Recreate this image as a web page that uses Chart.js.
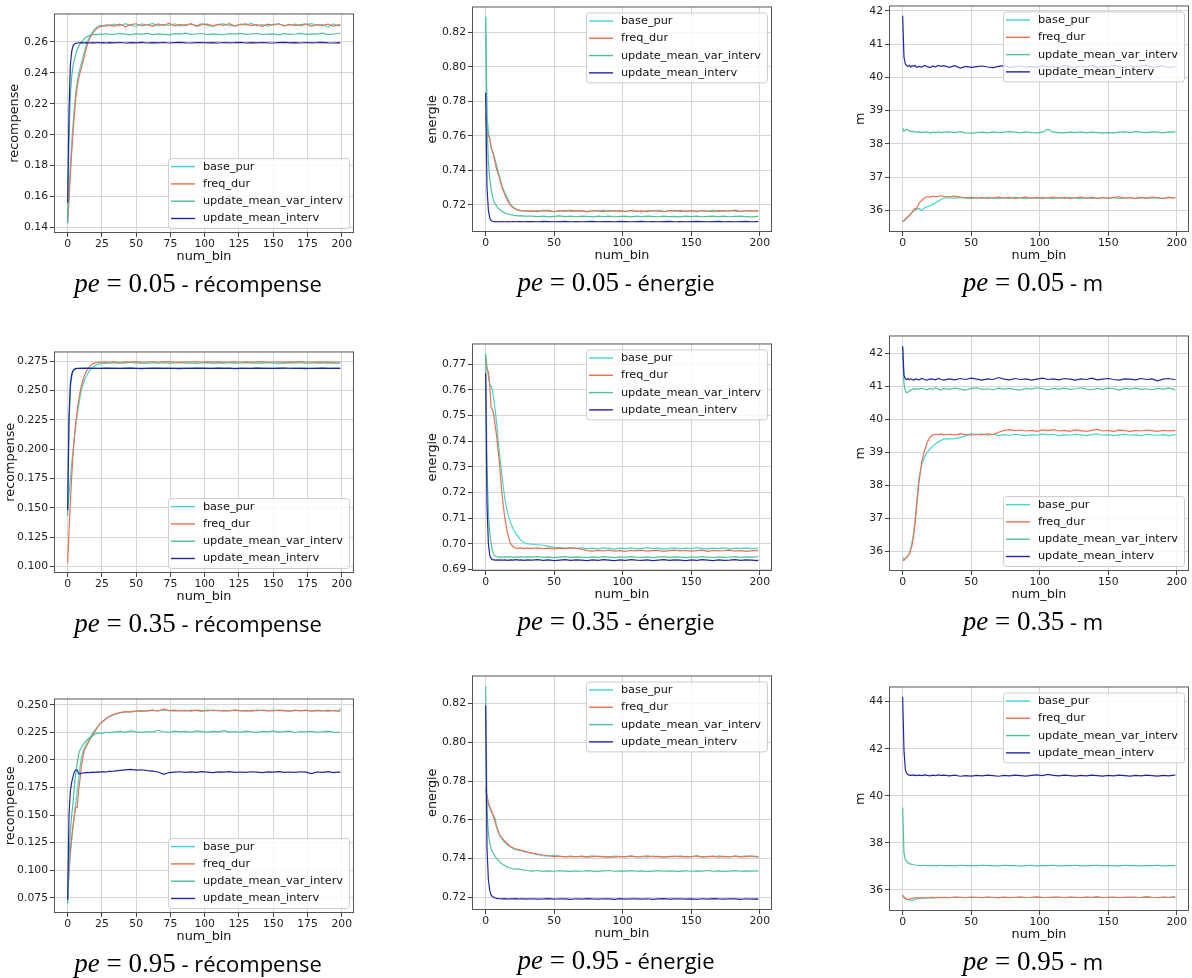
<!DOCTYPE html>
<html>
<head>
<meta charset="utf-8">
<script src="https://cdn.jsdelivr.net/npm/chart.js@4.4.1/dist/chart.umd.min.js"></script>
<style>
  body { margin: 0; background: #fff; width: 1192px; height: 978px; position: relative; overflow: hidden; }
  canvas { position: absolute; }
  .cap { position: absolute; white-space: nowrap; font-family: "Open Sans"; font-size: 22px; line-height: 30px; color: #000; transform: translateX(-50%); }
  .cap .mth { font-family: "Liberation Serif"; font-size: 27px; }
</style>
</head>
<body>
<script>
// num_bin positions sampled for every series
const bins = [0,1,2,3,4,5,6,7,8,9,10, 12,14,16,18,20,22,24,26,28,30,
  34,38,42,46,50,54,58,62,66,70,74,78,82,86,90,94,98,102,106,110,114,118,122,126,
  130,134,138,142,146,150,154,158,162,166,170,174,178,182,186,190,194,198, 199];

const seriesNames = ['base_pur', 'freq_dur', 'update_mean_var_interv', 'update_mean_interv'];

// ---- pe = 0.05 ----
const rec05Base = [0.143,0.163,0.180,0.195,0.207,0.218,0.228,0.234,0.239,0.243,0.246,
  0.253,0.259,0.263,0.266,0.2685,0.2698,0.2705,0.2702,0.2710,0.2706,
  0.2714,0.2702,0.2717,0.2706,0.2700,0.2715, 0.2707,0.2718,0.2703,0.2712,0.2705,0.2716,
  0.2701,0.2711,0.2714,0.2704,0.2717,0.2706, 0.2699,0.2712,0.2715,0.2705,0.2702,0.2714,
  0.2707,0.2718,0.2703,0.2711,0.2701,0.2712, 0.2716,0.2704,0.2708,0.2714,0.2702,0.2711,
  0.2717,0.2705,0.2712,0.2694,0.2715,0.2701, 0.2708];
const rec05Freq = [0.143,0.158,0.174,0.189,0.202,0.214,0.224,0.231,0.236,0.240,0.243,
  0.250,0.257,0.262,0.265,0.2675,0.2690,0.2698,0.2704,0.2700,0.2707,
  0.2701,0.2714,0.2696,0.2710,0.2716,0.2702, 0.2711,0.2699,0.2715,0.2706,0.2718,0.2703,
  0.2712,0.2704,0.2716,0.2700,0.2710,0.2714, 0.2702,0.2712,0.2705,0.2717,0.2701,0.2711,
  0.2715,0.2704,0.2710,0.2700,0.2714,0.2707, 0.2716,0.2702,0.2712,0.2704,0.2710,0.2715,
  0.2699,0.2711,0.2704,0.2714,0.2701,0.2710, 0.2707];
const rec05Umv = [0.143,0.198,0.226,0.238,0.245,0.249,0.252,0.255,0.257,0.2585,0.2598,
  0.2618,0.2633,0.2641,0.2645,0.2648,0.2646,0.2651,0.2647,0.2652,0.2649,
  0.2647,0.2653,0.2649,0.2645,0.2652,0.2648, 0.2654,0.2646,0.2651,0.2648,0.2644,0.2652,
  0.2649,0.2655,0.2647,0.2650,0.2653,0.2646, 0.2651,0.2648,0.2645,0.2652,0.2649,0.2654,
  0.2647,0.2650,0.2653,0.2646,0.2649,0.2651, 0.2645,0.2652,0.2648,0.2650,0.2654,0.2647,
  0.2651,0.2649,0.2655,0.2646,0.2650,0.2653, 0.2656];
const rec05Umi = [0.156,0.216,0.245,0.2540,0.2575,0.2585,0.2590,0.2592,0.2593,0.2592,0.2594,
  0.2593,0.2594,0.2592,0.2594,0.2593,0.2595,0.2593,0.2594,0.2592,0.2594,
  0.2593,0.2595,0.2592,0.2594,0.2593,0.2596, 0.2592,0.2594,0.2593,0.2595,0.2592,0.2594,
  0.2596,0.2593,0.2592,0.2594,0.2595,0.2593, 0.2594,0.2592,0.2595,0.2593,0.2594,0.2596,
  0.2592,0.2594,0.2593,0.2595,0.2593,0.2592, 0.2594,0.2596,0.2593,0.2594,0.2592,0.2595,
  0.2593,0.2594,0.2596,0.2593,0.2592,0.2594, 0.2593];

const en05Base = [0.829,0.772,0.763,0.758,0.754,0.751,0.749,0.746,0.743,0.740,0.737,
  0.731,0.727,0.724,0.7205,0.7188,0.7178,0.7172,0.7168,0.7165,0.7167,
  0.7163,0.7168,0.7164,0.7170,0.7162,0.7166, 0.7169,0.7161,0.7165,0.7168,0.7163,0.7167,
  0.7164,0.7170,0.7162,0.7166,0.7169,0.7163, 0.7167,0.7165,0.7161,0.7168,0.7164,0.7171,
  0.7163,0.7166,0.7169,0.7162,0.7165,0.7168, 0.7164,0.7167,0.7163,0.7170,0.7162,0.7166,
  0.7168,0.7164,0.7161,0.7167,0.7163,0.7169, 0.7160];
const en05Freq = [0.772,0.765,0.760,0.759,0.753,0.751,0.748,0.744,0.741,0.738,0.736,
  0.730,0.726,0.7225,0.7200,0.7185,0.7174,0.7169,0.7166,0.7168,0.7164,
  0.7166,0.7162,0.7169,0.7165,0.7161,0.7167, 0.7163,0.7170,0.7164,0.7166,0.7160,0.7168,
  0.7165,0.7162,0.7168,0.7164,0.7166,0.7161, 0.7169,0.7163,0.7166,0.7162,0.7168,0.7165,
  0.7161,0.7167,0.7164,0.7169,0.7163,0.7166, 0.7162,0.7168,0.7165,0.7161,0.7167,0.7164,
  0.7166,0.7170,0.7163,0.7168,0.7165,0.7167, 0.7166];
const en05Umv = [0.829,0.768,0.745,0.735,0.729,0.725,0.722,0.7205,0.7193,0.7183,0.7175,
  0.7163,0.7154,0.7148,0.7144,0.7141,0.7139,0.7137,0.7138,0.7136,0.7135,
  0.7136,0.7133,0.7135,0.7131,0.7134,0.7137, 0.7133,0.7135,0.7132,0.7136,0.7134,0.7131,
  0.7135,0.7133,0.7136,0.7132,0.7134,0.7135, 0.7131,0.7136,0.7133,0.7135,0.7134,0.7132,
  0.7136,0.7133,0.7134,0.7131,0.7135,0.7133, 0.7136,0.7132,0.7134,0.7135,0.7133,0.7136,
  0.7132,0.7134,0.7135,0.7133,0.7131,0.7134, 0.7134];
const en05Umi = [0.785,0.730,0.717,0.7125,0.7110,0.7106,0.7104,0.7104,0.7103,0.7104,0.7103,
  0.7104,0.7103,0.7104,0.7103,0.7104,0.7103,0.7104,0.7104,0.7103,0.7104,
  0.7104,0.7103,0.7105,0.7104,0.7103,0.7104, 0.7105,0.7103,0.7104,0.7103,0.7104,0.7105,
  0.7103,0.7104,0.7104,0.7103,0.7105,0.7104, 0.7103,0.7104,0.7105,0.7103,0.7104,0.7103,
  0.7104,0.7105,0.7103,0.7104,0.7103,0.7104, 0.7105,0.7104,0.7103,0.7104,0.7105,0.7103,
  0.7104,0.7103,0.7104,0.7105,0.7103,0.7104, 0.7104];

const m05Base = [35.66,35.70,35.74,35.78,35.82,35.86,35.90,35.94,35.97,36.01,36.05,
  36.06,36.00,36.08,36.11,36.14,36.18,36.22,36.28,36.33,36.37,
  36.38,36.36,36.39,36.37,36.35,36.38, 36.36,36.39,36.37,36.35,36.38,36.36,
  36.40,36.37,36.35,36.38,36.36,36.39, 36.37,36.35,36.38,36.36,36.39,36.37,
  36.35,36.38,36.36,36.37,36.39,36.35, 36.38,36.36,36.37,36.39,36.35,36.38,
  36.36,36.38,36.37,36.35,36.39,36.37, 36.38];
const m05Freq = [35.66,35.68,35.72,35.77,35.80,35.85,35.90,35.95,36.02,36.06,36.04,
  36.22,36.30,36.38,36.41,36.40,36.43,36.41,36.42,36.44,36.42,
  36.41,36.43,36.40,36.38,36.39,36.37, 36.39,36.36,36.38,36.40,36.37,36.39,
  36.36,36.38,36.40,36.37,36.39,36.36, 36.38,36.40,36.37,36.39,36.36,36.38,
  36.40,36.37,36.39,36.36,36.38,36.37, 36.39,36.41,36.37,36.38,36.36,36.39,
  36.37,36.40,36.38,36.36,36.39,36.38, 36.38];
const m05Umv = [38.48,38.38,38.42,38.44,38.41,38.39,38.37,38.38,38.36,38.37,38.35,
  38.36,38.34,38.36,38.35,38.33,38.35,38.34,38.36,38.34,38.35,
  38.36,38.34,38.37,38.33,38.32,38.34, 38.35,38.33,38.36,38.34,38.35,38.37,
  38.35,38.33,38.36,38.34,38.33,38.35, 38.44,38.35,38.34,38.33,38.35,38.34,
  38.36,38.33,38.35,38.34,38.32,38.34, 38.33,38.35,38.36,38.34,38.37,38.35,
  38.34,38.36,38.35,38.33,38.36,38.35, 38.39];
const m05Umi = [41.85,40.60,40.40,40.35,40.33,40.36,40.31,40.35,40.33,40.36,40.30,
  40.33,40.31,40.36,40.32,40.29,40.34,40.31,40.36,40.33,40.35,
  40.30,40.35,40.28,40.33,40.30,40.32, 40.34,40.31,40.29,40.33,40.35,40.30,
  40.32,40.34,40.30,40.33,40.29,40.35, 40.31,40.33,40.30,40.36,40.32,40.29,
  40.34,40.31,40.35,40.30,40.33,40.31, 40.36,40.32,40.30,40.34,40.31,40.33,
  40.35,40.30,40.32,40.34,40.29,40.33, 40.31];

// ---- pe = 0.35 ----
const rec35Base = [0.146,0.160,0.175,0.188,0.200,0.211,0.221,0.229,0.237,0.244,0.250,
  0.258,0.263,0.267,0.2698,0.2712,0.2722,0.2728,0.2731,0.2733,0.2730,
  0.2736,0.2731,0.2734,0.2738,0.2732,0.2735, 0.2730,0.2736,0.2733,0.2737,0.2731,0.2734,
  0.2736,0.2732,0.2735,0.2729,0.2734,0.2737, 0.2731,0.2735,0.2733,0.2736,0.2730,0.2734,
  0.2737,0.2732,0.2735,0.2731,0.2736,0.2733, 0.2729,0.2735,0.2732,0.2737,0.2734,0.2731,
  0.2736,0.2733,0.2735,0.2730,0.2734,0.2732, 0.2733];
const rec35Freq = [0.103,0.130,0.155,0.177,0.196,0.211,0.223,0.233,0.241,0.248,0.254,
  0.262,0.267,0.2705,0.2724,0.2735,0.2740,0.2742,0.2741,0.2743,0.2740,
  0.2743,0.2740,0.2744,0.2741,0.2745,0.2739, 0.2742,0.2744,0.2740,0.2743,0.2746,0.2741,
  0.2739,0.2743,0.2742,0.2745,0.2740,0.2744, 0.2741,0.2743,0.2739,0.2742,0.2745,0.2740,
  0.2744,0.2741,0.2743,0.2746,0.2740,0.2742, 0.2744,0.2739,0.2743,0.2741,0.2745,0.2742,
  0.2740,0.2744,0.2741,0.2743,0.2739,0.2742, 0.2742];
const rec35Umv = [0.143,0.222,0.252,0.262,0.266,0.2678,0.2685,0.2688,0.2690,0.2689,0.2691,
  0.2690,0.2692,0.2689,0.2691,0.2690,0.2692,0.2689,0.2691,0.2690,0.2692,
  0.2691,0.2689,0.2692,0.2690,0.2688,0.2691, 0.2690,0.2692,0.2689,0.2691,0.2690,0.2688,
  0.2692,0.2690,0.2691,0.2689,0.2692,0.2690, 0.2688,0.2691,0.2690,0.2692,0.2689,0.2691,
  0.2690,0.2688,0.2692,0.2690,0.2691,0.2689, 0.2692,0.2690,0.2688,0.2691,0.2690,0.2692,
  0.2689,0.2691,0.2690,0.2688,0.2691,0.2690, 0.2690];
const rec35Umi = [0.148,0.228,0.256,0.264,0.2672,0.2682,0.2686,0.2688,0.2687,0.2689,0.2688,
  0.2689,0.2688,0.2690,0.2688,0.2689,0.2687,0.2689,0.2688,0.2690,0.2688,
  0.2689,0.2687,0.2688,0.2690,0.2688,0.2686, 0.2689,0.2688,0.2690,0.2687,0.2689,0.2688,
  0.2686,0.2689,0.2688,0.2690,0.2687,0.2689, 0.2688,0.2690,0.2687,0.2689,0.2686,0.2688,
  0.2689,0.2687,0.2690,0.2688,0.2689,0.2687, 0.2688,0.2690,0.2689,0.2687,0.2688,0.2686,
  0.2689,0.2688,0.2690,0.2687,0.2689,0.2688, 0.2688];

const en35Base = [0.7740,0.7690,0.7655,0.7620,0.7615,0.7600,0.7560,0.7520,0.7470,0.7410,0.7360,
  0.7260,0.7175,0.7120,0.7085,0.7058,0.7040,0.7025,0.7012,0.7005,0.7000,
  0.6998,0.6996,0.6994,0.6990,0.6986,0.6985, 0.6983,0.6985,0.6982,0.6984,0.6981,0.6983,
  0.6980,0.6984,0.6982,0.6979,0.6983,0.6981, 0.6984,0.6980,0.6982,0.6985,0.6981,0.6983,
  0.6979,0.6982,0.6984,0.6980,0.6983,0.6981, 0.6985,0.6982,0.6980,0.6983,0.6981,0.6984,
  0.6980,0.6983,0.6982,0.6984,0.6981,0.6983, 0.6984];
const en35Freq = [0.7725,0.7680,0.7670,0.7620,0.7530,0.7525,0.7500,0.7460,0.7420,0.7370,0.7320,
  0.7190,0.7100,0.7040,0.7003,0.6988,0.6983,0.6982,0.6984,0.6981,0.6983,
  0.6982,0.6984,0.6981,0.6983,0.6980,0.6983, 0.6981,0.6984,0.6982,0.6979,0.6973,0.6971,
  0.6974,0.6972,0.6975,0.6971,0.6973,0.6970, 0.6974,0.6972,0.6975,0.6971,0.6973,0.6974,
  0.6970,0.6973,0.6975,0.6972,0.6974,0.6971, 0.6973,0.6975,0.6970,0.6974,0.6972,0.6973,
  0.6975,0.6971,0.6973,0.6970,0.6972,0.6974, 0.6972];
const en35Umv = [0.7740,0.7300,0.7120,0.7040,0.7000,0.6972,0.6958,0.6952,0.6950,0.6948,0.6949,
  0.6947,0.6949,0.6948,0.6950,0.6947,0.6949,0.6948,0.6950,0.6947,0.6949,
  0.6948,0.6950,0.6947,0.6949,0.6946,0.6948, 0.6950,0.6947,0.6949,0.6948,0.6946,0.6949,
  0.6947,0.6950,0.6948,0.6946,0.6949,0.6947, 0.6950,0.6948,0.6947,0.6949,0.6946,0.6948,
  0.6950,0.6947,0.6949,0.6948,0.6946,0.6949, 0.6947,0.6950,0.6948,0.6946,0.6949,0.6947,
  0.6948,0.6950,0.6947,0.6949,0.6948,0.6950, 0.6951];
const en35Umi = [0.7663,0.7150,0.7000,0.6955,0.6942,0.6938,0.6937,0.6936,0.6937,0.6936,0.6937,
  0.6936,0.6937,0.6935,0.6937,0.6936,0.6938,0.6936,0.6937,0.6935,0.6937,
  0.6936,0.6938,0.6935,0.6937,0.6934,0.6936, 0.6938,0.6935,0.6937,0.6936,0.6934,0.6937,
  0.6935,0.6938,0.6936,0.6934,0.6937,0.6935, 0.6938,0.6936,0.6935,0.6937,0.6934,0.6936,
  0.6938,0.6935,0.6937,0.6936,0.6934,0.6937, 0.6935,0.6938,0.6936,0.6934,0.6937,0.6935,
  0.6936,0.6938,0.6935,0.6937,0.6936,0.6934, 0.6936];

const m35Base = [35.80,35.74,35.78,35.80,35.85,35.95,36.10,36.30,36.55,36.90,37.40,
  38.25,38.62,38.85,39.00,39.10,39.18,39.25,39.31,39.35,39.40,
  39.40,39.41,39.44,39.50,39.56,39.52, 39.55,39.51,39.54,39.50,39.53,39.51,
  39.54,39.52,39.50,39.53,39.51,39.55, 39.52,39.54,39.50,39.53,39.51,39.54,
  39.52,39.50,39.53,39.55,39.51,39.53, 39.50,39.52,39.54,39.51,39.53,39.50,
  39.54,39.52,39.51,39.53,39.50,39.53, 39.52];
const m35Freq = [35.72,35.72,35.78,35.82,35.86,35.92,36.05,36.20,36.45,36.80,37.25,
  38.10,38.72,39.05,39.30,39.45,39.52,39.54,39.53,39.55,39.52,
  39.54,39.52,39.55,39.53,39.51,39.54, 39.52,39.55,39.53,39.60,39.66,39.68,
  39.65,39.67,39.64,39.66,39.63,39.67, 39.65,39.68,39.64,39.66,39.63,39.67,
  39.65,39.63,39.66,39.69,39.64,39.66, 39.62,39.67,39.65,39.63,39.66,39.64,
  39.67,39.65,39.63,39.66,39.64,39.65, 39.65];
const m35Umv = [42.20,41.05,40.85,40.80,40.82,40.85,40.88,40.90,40.92,40.89,40.93,
  40.90,40.94,40.91,40.89,40.93,40.90,40.95,40.91,40.88,40.93,
  40.90,40.94,40.91,40.88,40.93,40.95, 40.90,40.92,40.89,40.94,40.91,40.93,
  40.90,40.88,40.93,40.91,40.95,40.92, 40.89,40.93,40.91,40.94,40.90,40.92,
  40.95,40.91,40.89,40.93,40.90,40.94, 40.92,40.88,40.93,40.91,40.94,40.90,
  40.92,40.89,40.93,40.91,40.94,40.90, 40.87];
const m35Umi = [42.21,41.32,41.22,41.20,41.23,41.19,41.22,41.20,41.18,41.22,41.21,
  41.19,41.23,41.20,41.18,41.22,41.21,41.19,41.23,41.20,41.18,
  41.22,41.19,41.23,41.20,41.24,41.21, 41.18,41.22,41.20,41.26,41.21,41.19,
  41.23,41.20,41.22,41.18,41.21,41.24, 41.20,41.22,41.19,41.23,41.21,41.18,
  41.22,41.20,41.24,41.19,41.21,41.23, 41.20,41.18,41.22,41.21,41.19,41.23,
  41.20,41.22,41.16,41.21,41.23,41.20, 41.20];

// ---- pe = 0.95 ----
const rec95Base = [0.070,0.098,0.115,0.128,0.140,0.151,0.161,0.172,0.183,0.193,0.202,
  0.210,0.215,0.219,0.224,0.227,0.230,0.233,0.235,0.237,0.239,
  0.2410,0.2425,0.2432,0.2440,0.2442,0.2446, 0.2441,0.2448,0.2444,0.2452,0.2446,0.2441,
  0.2449,0.2443,0.2451,0.2447,0.2440,0.2453, 0.2445,0.2449,0.2442,0.2447,0.2451,0.2444,
  0.2448,0.2441,0.2450,0.2446,0.2443,0.2452, 0.2447,0.2449,0.2442,0.2451,0.2445,0.2448,
  0.2443,0.2450,0.2446,0.2441,0.2449,0.2440, 0.2468];
const rec95Freq = [0.075,0.100,0.118,0.130,0.141,0.150,0.157,0.157,0.172,0.182,0.194,
  0.208,0.213,0.218,0.222,0.226,0.230,0.2335,0.2355,0.2375,0.2390,
  0.2415,0.2428,0.2438,0.2432,0.2444,0.2440, 0.2446,0.2450,0.2443,0.2460,0.2447,0.2451,
  0.2444,0.2449,0.2441,0.2450,0.2446,0.2443, 0.2452,0.2445,0.2449,0.2443,0.2451,0.2446,
  0.2442,0.2449,0.2445,0.2452,0.2447,0.2443, 0.2450,0.2446,0.2441,0.2448,0.2444,0.2450,
  0.2442,0.2447,0.2443,0.2449,0.2445,0.2441, 0.2447];
const rec95Umv = [0.070,0.110,0.135,0.150,0.162,0.178,0.188,0.197,0.205,0.209,0.211,
  0.215,0.218,0.220,0.2215,0.2235,0.2245,0.2238,0.2243,0.2250,0.2246,
  0.2252,0.2258,0.2250,0.2262,0.2254,0.2249, 0.2257,0.2252,0.2268,0.2255,0.2250,0.2261,
  0.2253,0.2258,0.2249,0.2263,0.2256,0.2251, 0.2259,0.2254,0.2265,0.2252,0.2257,0.2250,
  0.2261,0.2255,0.2249,0.2258,0.2253,0.2262, 0.2251,0.2256,0.2260,0.2248,0.2257,0.2253,
  0.2259,0.2250,0.2255,0.2261,0.2252,0.2249, 0.2252];
const rec95Umi = [0.073,0.150,0.172,0.180,0.185,0.1895,0.1910,0.1908,0.1875,0.1872,0.1880,
  0.1882,0.1886,0.1884,0.1889,0.1887,0.1891,0.1889,0.1893,0.1890,0.1895,
  0.1898,0.1904,0.1910,0.1914,0.1907,0.1910, 0.1903,0.1898,0.1890,0.1868,0.1885,0.1888,
  0.1892,0.1886,0.1891,0.1887,0.1893,0.1889, 0.1885,0.1891,0.1888,0.1893,0.1886,0.1890,
  0.1887,0.1892,0.1889,0.1885,0.1891,0.1888, 0.1893,0.1886,0.1890,0.1887,0.1892,0.1889,
  0.1876,0.1890,0.1887,0.1893,0.1885,0.1891, 0.1882];

const en95Base = [0.7762,0.7720,0.7680,0.7660,0.7640,0.7630,0.7618,0.7605,0.7565,0.7540,0.7520,
  0.7500,0.7482,0.7470,0.7460,0.7450,0.7446,0.7443,0.7440,0.7435,0.7432,
  0.7426,0.7420,0.7414,0.7412,0.7418,0.7411, 0.7409,0.7412,0.7408,0.7411,0.7410,0.7413,
  0.7409,0.7411,0.7407,0.7412,0.7410,0.7408, 0.7413,0.7409,0.7411,0.7407,0.7412,0.7410,
  0.7408,0.7411,0.7409,0.7413,0.7408,0.7410, 0.7412,0.7407,0.7411,0.7409,0.7413,0.7410,
  0.7408,0.7412,0.7410,0.7413,0.7409,0.7411, 0.7410];
const en95Freq = [0.7760,0.7725,0.7690,0.7668,0.7650,0.7632,0.7610,0.7585,0.7562,0.7545,0.7525,
  0.7505,0.7490,0.7475,0.7462,0.7455,0.7448,0.7446,0.7442,0.7438,0.7434,
  0.7428,0.7423,0.7418,0.7414,0.7410,0.7412, 0.7408,0.7411,0.7409,0.7412,0.7407,0.7410,
  0.7412,0.7408,0.7410,0.7407,0.7411,0.7409, 0.7412,0.7408,0.7410,0.7413,0.7409,0.7411,
  0.7407,0.7410,0.7412,0.7408,0.7411,0.7409, 0.7413,0.7408,0.7410,0.7412,0.7407,0.7411,
  0.7409,0.7412,0.7408,0.7410,0.7413,0.7409, 0.7405];
const en95Umv = [0.8290,0.7650,0.7530,0.7480,0.7452,0.7432,0.7422,0.7410,0.7401,0.7392,0.7385,
  0.7372,0.7364,0.7355,0.7351,0.7347,0.7345,0.7346,0.7343,0.7340,0.7338,
  0.7335,0.7338,0.7333,0.7336,0.7334,0.7337, 0.7335,0.7333,0.7336,0.7334,0.7337,0.7335,
  0.7333,0.7336,0.7338,0.7334,0.7336,0.7335, 0.7337,0.7334,0.7336,0.7333,0.7335,0.7337,
  0.7334,0.7336,0.7335,0.7333,0.7337,0.7334, 0.7336,0.7335,0.7338,0.7334,0.7336,0.7333,
  0.7335,0.7337,0.7334,0.7336,0.7335,0.7336, 0.7336];
const en95Umi = [0.8190,0.7450,0.7290,0.7235,0.7212,0.7203,0.7199,0.7196,0.7194,0.7193,0.7192,
  0.7191,0.7193,0.7190,0.7192,0.7191,0.7193,0.7190,0.7192,0.7191,0.7190,
  0.7192,0.7190,0.7191,0.7193,0.7190,0.7192, 0.7191,0.7189,0.7192,0.7190,0.7193,0.7191,
  0.7190,0.7192,0.7191,0.7189,0.7193,0.7190, 0.7192,0.7191,0.7190,0.7192,0.7189,0.7191,
  0.7193,0.7190,0.7191,0.7192,0.7190,0.7191, 0.7189,0.7192,0.7190,0.7193,0.7191,0.7190,
  0.7192,0.7191,0.7189,0.7192,0.7190,0.7191, 0.7190];

const m95Base = [35.75,35.70,35.66,35.63,35.60,35.58,35.56,35.54,35.57,35.60,35.62,
  35.63,35.64,35.65,35.66,35.66,35.67,35.66,35.68,35.67,35.68,
  35.67,35.69,35.68,35.67,35.69,35.68, 35.67,35.69,35.68,35.66,35.69,35.67,
  35.68,35.70,35.67,35.69,35.68,35.67, 35.69,35.68,35.70,35.67,35.69,35.68,
  35.67,35.69,35.68,35.70,35.67,35.69, 35.68,35.67,35.69,35.68,35.70,35.67,
  35.69,35.68,35.67,35.69,35.68,35.70, 35.69];
const m95Freq = [35.78,35.68,35.63,35.60,35.59,35.61,35.63,35.64,35.65,35.66,35.66,
  35.67,35.66,35.68,35.67,35.68,35.69,35.68,35.69,35.68,35.69,
  35.68,35.70,35.69,35.68,35.70,35.69, 35.68,35.70,35.69,35.68,35.70,35.68,
  35.69,35.70,35.68,35.69,35.71,35.69, 35.68,35.70,35.69,35.68,35.70,35.69,
  35.68,35.70,35.69,35.71,35.68,35.69, 35.70,35.68,35.69,35.70,35.68,35.69,
  35.72,35.69,35.68,35.70,35.69,35.71, 35.69];
const m95Umv = [39.50,37.55,37.28,37.20,37.15,37.12,37.10,37.08,37.07,37.06,37.05,
  37.04,37.03,37.05,37.03,37.04,37.02,37.04,37.03,37.05,37.03,
  37.04,37.02,37.05,37.03,37.04,37.02, 37.05,37.03,37.04,37.02,37.05,37.03,
  37.04,37.01,37.03,37.05,37.02,37.04, 37.03,37.05,37.02,37.04,37.03,37.05,
  37.02,37.04,37.03,37.05,37.02,37.04, 37.03,37.02,37.05,37.03,37.04,37.02,
  37.04,37.03,37.05,37.02,37.04,37.03, 37.03];
const m95Umi = [44.21,41.90,41.10,40.95,40.90,40.88,40.86,40.89,40.87,40.88,40.86,
  40.88,40.86,40.89,40.87,40.85,40.88,40.86,40.89,40.87,40.88,
  40.85,40.88,40.83,40.86,40.84,40.87, 40.85,40.88,40.86,40.83,40.87,40.85,
  40.88,40.86,40.84,40.87,40.89,40.86, 40.91,40.87,40.85,40.88,40.86,40.84,
  40.87,40.85,40.88,40.86,40.84,40.87, 40.85,40.88,40.86,40.84,40.87,40.85,
  40.88,40.86,40.84,40.87,40.85,40.88, 40.88];

// tick labels
const xTicksFine = [0, 25, 50, 75, 100, 125, 150, 175, 200];
const xTicksCoarse = [0, 50, 100, 150, 200];
const ticksRec05 = [0.14, 0.16, 0.18, 0.20, 0.22, 0.24, 0.26];
const ticksEn05 = [0.72, 0.74, 0.76, 0.78, 0.80, 0.82];
const ticksM05 = [36, 37, 38, 39, 40, 41, 42];
const ticksRec35 = [0.100, 0.125, 0.150, 0.175, 0.200, 0.225, 0.250, 0.275];
const ticksEn35 = [0.69, 0.70, 0.71, 0.72, 0.73, 0.74, 0.75, 0.76, 0.77];
const ticksM35 = [36, 37, 38, 39, 40, 41, 42];
const ticksRec95 = [0.075, 0.100, 0.125, 0.150, 0.175, 0.200, 0.225, 0.250];
const ticksEn95 = [0.72, 0.74, 0.76, 0.78, 0.80, 0.82];
const ticksM95 = [36, 38, 40, 42, 44];

const lineColors = ['#3fd8cc', '#f0704e', '#4cc1a0', '#2424a4'];

// box = plot area [left, top, right, bottom] on the page, gap = y-label centre left of the plot
const panels = [
  { box: [54, 13, 354, 233], gap: 39, series: [rec05Base, rec05Freq, rec05Umv, rec05Umi], yLabel: 'recompense', yTicks: ticksRec05, dec: 2, xTicks: xTicksFine, legend: 'lr', pe: '0.05', name: 'récompense' },
  { box: [472, 6, 772, 232], gap: 39, series: [en05Base, en05Freq, en05Umv, en05Umi], yLabel: 'energie', yTicks: ticksEn05, dec: 2, xTicks: xTicksCoarse, legend: 'ur', pe: '0.05', name: 'énergie' },
  { box: [889, 5, 1189, 232], gap: 28, series: [m05Base, m05Freq, m05Umv, m05Umi], yLabel: 'm', yTicks: ticksM05, dec: 0, xTicks: xTicksCoarse, legend: 'ur', pe: '0.05', name: 'm' },
  { box: [54, 351, 354, 573], gap: 43, series: [rec35Base, rec35Freq, rec35Umv, rec35Umi], yLabel: 'recompense', yTicks: ticksRec35, dec: 3, xTicks: xTicksFine, legend: 'lr', pe: '0.35', name: 'récompense' },
  { box: [472, 343, 772, 571], gap: 39, series: [en35Base, en35Freq, en35Umv, en35Umi], yLabel: 'energie', yTicks: ticksEn35, dec: 2, xTicks: xTicksCoarse, legend: 'ur', pe: '0.35', name: 'énergie' },
  { box: [889, 335, 1189, 571], gap: 28, series: [m35Base, m35Freq, m35Umv, m35Umi], yLabel: 'm', yTicks: ticksM35, dec: 0, xTicks: xTicksCoarse, legend: 'lr', pe: '0.35', name: 'm' },
  { box: [54, 698, 354, 913], gap: 43, series: [rec95Base, rec95Freq, rec95Umv, rec95Umi], yLabel: 'recompense', yTicks: ticksRec95, dec: 3, xTicks: xTicksFine, legend: 'lr', pe: '0.95', name: 'récompense' },
  { box: [472, 675, 772, 910], gap: 39, series: [en95Base, en95Freq, en95Umv, en95Umi], yLabel: 'energie', yTicks: ticksEn95, dec: 2, xTicks: xTicksCoarse, legend: 'ur', pe: '0.95', name: 'énergie' },
  { box: [889, 686, 1189, 911], gap: 28, series: [m95Base, m95Freq, m95Umv, m95Umi], yLabel: 'm', yTicks: ticksM95, dec: 0, xTicks: xTicksCoarse, legend: 'ur', pe: '0.95', name: 'm' }
];

const YW = 54, XH = 36, PT = 8, PR = 8;
const TICK_FONT = { family: 'DejaVu Sans', size: 10.8 };
const LABEL_FONT = { family: 'DejaVu Sans', size: 12.8 };
const LEG_SIZE = 11.3;

// frame on all four sides plus a matplotlib-like legend inside the axes
const frameLegend = {
  id: 'frameLegend',
  afterDatasetsDraw(chart, args, opts) {
    const { ctx, chartArea: a } = chart;
    ctx.save();
    ctx.strokeStyle = '#555';
    ctx.lineWidth = 1;
    ctx.strokeRect(a.left + 0.5, a.top + 0.5, a.right - a.left - 1, a.bottom - a.top - 1);

    ctx.font = LEG_SIZE + 'px "DejaVu Sans"';
    const textW = Math.max(...seriesNames.map(s => ctx.measureText(s).width));
    const rowH = 17.3, handle = 24;
    const w = 3 + handle + 8 + textW + 6;
    const h = 8.5 + rowH * 3 + 9.5;
    const x = a.right - 5 - w;
    const y = opts.corner === 'ur' ? a.top + 6 : a.bottom - 5 - h;
    ctx.beginPath();
    ctx.roundRect(x + 0.5, y + 0.5, w, h, 3);
    ctx.fillStyle = 'rgba(255,255,255,0.8)';
    ctx.fill();
    ctx.strokeStyle = '#cccccc';
    ctx.stroke();
    ctx.textBaseline = 'middle';
    seriesNames.forEach((s, k) => {
      const cy = y + 8.5 + k * rowH;
      ctx.strokeStyle = lineColors[k];
      ctx.lineWidth = 1.4;
      ctx.beginPath();
      ctx.moveTo(x + 3, cy);
      ctx.lineTo(x + 3 + handle, cy);
      ctx.stroke();
      ctx.fillStyle = '#111';
      ctx.fillText(s, x + 3 + handle + 8, cy);
    });
    ctx.restore();
  }
};

function setTicks(list) {
  return axis => {
    axis.ticks = list.filter(v => v >= axis.min && v <= axis.max).map(v => ({ value: v }));
  };
}

panels.forEach(p => {
  const [l, t, r, b] = p.box;
  const cv = document.createElement('canvas');
  cv.width = YW + (r - l) + PR;
  cv.height = PT + (b - t) + XH;
  cv.style.left = (l - YW) + 'px';
  cv.style.top = (t - PT) + 'px';
  document.body.appendChild(cv);

  // 5% margins around the data, as the axes were autoscaled
  const all = p.series.flat();
  const lo = Math.min(...all), hi = Math.max(...all);
  const m = (hi - lo) * 0.05;
  const xm = (bins[bins.length - 1] - bins[0]) * 0.05;

  new Chart(cv, {
    type: 'line',
    data: {
      datasets: p.series.map((vals, k) => ({
        label: seriesNames[k],
        data: bins.map((x, i) => ({ x: x, y: vals[i] })),
        borderColor: lineColors[k],
        borderWidth: 1.2,
        pointRadius: 0,
        tension: 0,
        fill: false,
        order: 3 - k
      }))
    },
    options: {
      responsive: false,
      animation: false,
      devicePixelRatio: 1,
      events: [],
      layout: { padding: { top: PT, right: PR, left: 0, bottom: 0 } },
      plugins: {
        legend: { display: false },
        tooltip: { enabled: false },
        frameLegend: { corner: p.legend }
      },
      scales: {
        x: {
          type: 'linear',
          min: bins[0] - xm,
          max: bins[bins.length - 1] + xm,
          afterBuildTicks: setTicks(p.xTicks),
          afterFit: s => { s.height = XH; },
          grid: { color: '#d6d6d6', lineWidth: 1, tickLength: 4, tickColor: '#444' },
          border: { display: false },
          ticks: { font: TICK_FONT, color: '#222', padding: 1, maxRotation: 0, callback: v => String(v) },
          title: { display: true, text: 'num_bin', font: LABEL_FONT, color: '#111', padding: { top: 0, bottom: 5 } }
        },
        y: {
          type: 'linear',
          min: lo - m,
          max: hi + m,
          afterBuildTicks: setTicks(p.yTicks),
          afterFit: s => { s.width = YW; },
          grid: { color: '#d6d6d6', lineWidth: 1, tickLength: 4, tickColor: '#444' },
          border: { display: false },
          ticks: { font: TICK_FONT, color: '#222', padding: 2, callback: v => v.toFixed(p.dec) },
          title: { display: true, text: p.yLabel, font: LABEL_FONT, color: '#111', padding: { top: YW - p.gap - 7.7, bottom: 0 } }
        }
      }
    },
    plugins: [frameLegend]
  });

  // caption under each panel
  const cap = document.createElement('div');
  cap.className = 'cap';
  cap.style.left = ((l + r) / 2 - 6) + 'px';
  cap.style.top = (b + 35) + 'px';
  cap.innerHTML = '<span class="mth"><i>pe</i> = ' + p.pe + '</span> - ' + p.name;
  document.body.appendChild(cap);
});
</script>
</body>
</html>
